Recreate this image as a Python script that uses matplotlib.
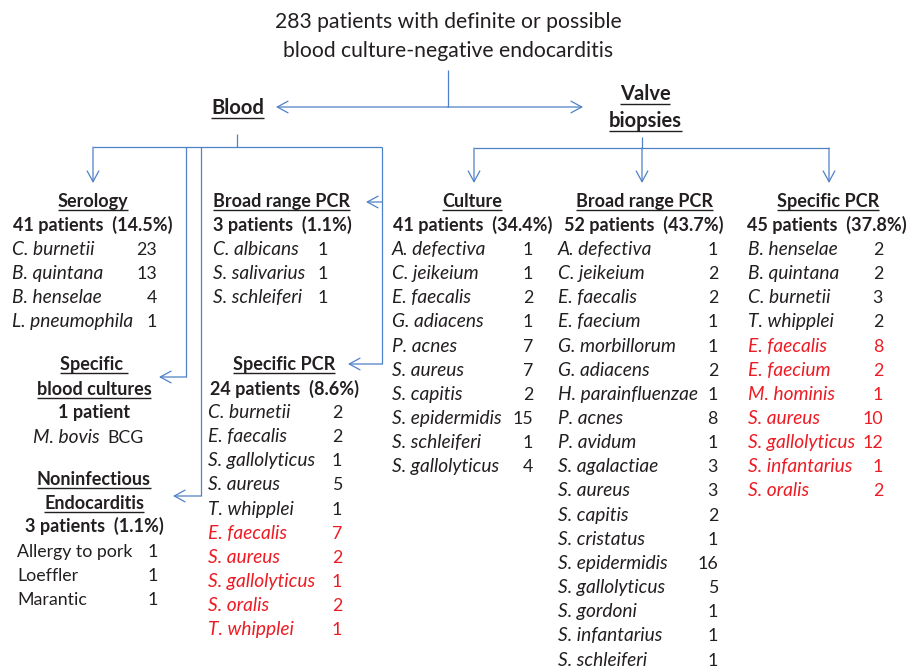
import matplotlib
matplotlib.use('Agg')
import matplotlib.pyplot as plt

plt.rcParams['font.family'] = ['Lato', 'DejaVu Sans']

# data
title_lines = ['283 patients with definite or possible', 'blood culture-negative endocarditis']

serology_names = ['C. burnetii', 'B. quintana', 'B. henselae', 'L. pneumophila']
serology_counts = [23, 13, 4, 1]
serology_total = '41 patients  (14.5%)'

sbc_total = '1 patient'
sbc_species = 'M. bovis'
sbc_strain = 'BCG'

noninf_names = ['Allergy to pork', 'Loeffler', 'Marantic']
noninf_counts = [1, 1, 1]
noninf_total = '3 patients  (1.1%)'

blood_brpcr_names = ['C. albicans', 'S. salivarius', 'S. schleiferi']
blood_brpcr_counts = [1, 1, 1]
blood_brpcr_total = '3 patients  (1.1%)'

blood_spcr_names = ['C. burnetii', 'E. faecalis', 'S. gallolyticus', 'S. aureus', 'T. whipplei']
blood_spcr_counts = [2, 2, 1, 5, 1]
blood_spcr_red_names = ['E. faecalis', 'S. aureus', 'S. gallolyticus', 'S. oralis', 'T. whipplei']
blood_spcr_red_counts = [7, 2, 1, 2, 1]
blood_spcr_total = '24 patients  (8.6%)'

culture_names = ['A. defectiva', 'C. jeikeium', 'E. faecalis', 'G. adiacens', 'P. acnes',
                 'S. aureus', 'S. capitis', 'S. epidermidis', 'S. schleiferi', 'S. gallolyticus']
culture_counts = [1, 1, 2, 1, 7, 7, 2, 15, 1, 4]
culture_total = '41 patients  (34.4%)'

valve_brpcr_names = ['A. defectiva', 'C. jeikeium', 'E. faecalis', 'E. faecium', 'G. morbillorum',
                     'G. adiacens', 'H. parainfluenzae', 'P. acnes', 'P. avidum', 'S. agalactiae',
                     'S. aureus', 'S. capitis', 'S. cristatus', 'S. epidermidis', 'S. gallolyticus',
                     'S. gordoni', 'S. infantarius', 'S. schleiferi']
valve_brpcr_counts = [1, 2, 2, 1, 1, 2, 1, 8, 1, 3, 3, 2, 1, 16, 5, 1, 1, 1]
valve_brpcr_total = '52 patients  (43.7%)'

valve_spcr_names = ['B. henselae', 'B. quintana', 'C. burnetii', 'T. whipplei']
valve_spcr_counts = [2, 2, 3, 2]
valve_spcr_red_names = ['E. faecalis', 'E. faecium', 'M. hominis', 'S. aureus',
                        'S. gallolyticus', 'S. infantarius', 'S. oralis']
valve_spcr_red_counts = [8, 2, 1, 10, 12, 1, 2]
valve_spcr_total = '45 patients  (37.8%)'

# style
TXT = '#231f20'
RED = '#ed1c24'
LINE = '#4f81c7'
FS = 12.8      # regular text and counts
IFS = 13.8     # italic species names
BFS = 13       # bold totals
HFS = 13       # underlined headings
ROW = 24.15

fig = plt.figure(figsize=(9.08, 6.66), dpi=100)
ax = fig.add_axes([0, 0, 1, 1])
ax.set_xlim(0, 908)
ax.set_ylim(666, 0)
ax.axis('off')

headings = []


def txt(x, y, s, ha='left', size=FS, bold=False, italic=False, color=TXT):
    return ax.text(x, y, s, ha=ha, va='baseline', fontsize=size, color=color,
                   fontweight='bold' if bold else 'normal',
                   style='italic' if italic else 'normal')


def heading(x, y, s, ha='center', size=HFS):
    t = txt(x, y, s, ha=ha, size=size, bold=True)
    headings.append((t, y))
    return t


def total(x, y, s, ha='left'):
    return txt(x, y, s, ha=ha, size=BFS, bold=True)


def put_list(x_name, x_num, y0, names, counts, color=TXT, italic=True):
    for i, (n, c) in enumerate(zip(names, counts)):
        y = y0 + i * ROW
        txt(x_name, y, n, size=IFS if italic else FS, italic=italic, color=color)
        txt(x_num, y, str(c), ha='right', color=color)


def seg(xs, ys):
    ax.plot(xs, ys, color=LINE, lw=0.9, solid_capstyle='butt')


def arrow(x0, y0, x1, y1):
    ax.annotate('', xy=(x1, y1), xytext=(x0, y0),
                arrowprops=dict(arrowstyle='->,head_length=0.55,head_width=0.3',
                                color=LINE, lw=0.9, shrinkA=0, shrinkB=0,
                                mutation_scale=14))


# title
txt(448, 28.5, title_lines[0], ha='center', size=15.2)
txt(448, 57, title_lines[1], ha='center', size=15.2)

heading(237.5, 114, 'Blood', size=14.5)
heading(645, 100, 'Valve', size=14.5)
heading(645, 127, 'biopsies', size=14.5)

# connectors: top
seg([448, 448], [70, 107])
arrow(448, 107, 276, 107)
arrow(448, 107, 583, 107)

# connectors: blood
seg([237, 237], [134, 147])
seg([93, 382], [147, 147])
arrow(93, 147, 93, 183)
seg([186, 186], [147, 377])
arrow(186, 377, 159, 377)
seg([201, 201], [147, 496])
arrow(201, 496, 173, 496)
seg([382, 382], [147, 364])
arrow(382, 202, 366, 202)
arrow(382, 364, 348, 364)

# connectors: valve
seg([642, 642], [137, 148])
seg([474, 829], [148, 148])
for xa in [474, 642, 829]:
    arrow(xa, 148, xa, 183)

# serology
heading(93, 207, 'Serology')
total(13, 231, serology_total)
put_list(12, 157, 255, serology_names, serology_counts)

# specific blood cultures
heading(94, 370, 'Specific ')
heading(94, 395, 'blood cultures')
total(94, 418, sbc_total, ha='center')
txt(33, 443, sbc_species, size=IFS, italic=True)
txt(107, 443, sbc_strain)

# noninfectious
heading(94, 485, 'Noninfectious')
heading(94, 509, 'Endocarditis')
total(94, 532, noninf_total, ha='center')
put_list(17, 158, 557, noninf_names, noninf_counts, italic=False)

# blood broad range PCR
heading(213, 207, 'Broad range PCR', ha='left')
total(213, 231, blood_brpcr_total)
put_list(213, 328, 255, blood_brpcr_names, blood_brpcr_counts)

# blood specific PCR
heading(284, 370, 'Specific PCR')
total(284, 395, blood_spcr_total, ha='center')
put_list(208, 342, 418, blood_spcr_names, blood_spcr_counts)
put_list(208, 342, 418 + len(blood_spcr_names) * ROW, blood_spcr_red_names,
         blood_spcr_red_counts, color=RED)

# valve culture
heading(472, 207, 'Culture')
total(393, 231, culture_total)
put_list(392, 533, 255, culture_names, culture_counts)

# valve broad range PCR
heading(644, 207, 'Broad range PCR')
total(644, 231, valve_brpcr_total, ha='center')
put_list(558, 718, 255, valve_brpcr_names, valve_brpcr_counts)

# valve specific PCR
heading(828, 207, 'Specific PCR')
total(827, 231, valve_spcr_total, ha='center')
put_list(748, 883, 255, valve_spcr_names, valve_spcr_counts)
put_list(748, 883, 255 + len(valve_spcr_names) * ROW, valve_spcr_red_names,
         valve_spcr_red_counts, color=RED)

# underline the headings
fig.canvas.draw()
renderer = fig.canvas.get_renderer()
inv = ax.transData.inverted()
for t, y in headings:
    bb = t.get_window_extent(renderer)
    (x0, _), (x1, _) = inv.transform([(bb.x0, bb.y0), (bb.x1, bb.y1)])
    dy = 3.5 if t.get_fontsize() > 14 else 3.0
    ax.plot([x0, x1], [y + dy, y + dy], color=TXT, lw=1.0, solid_capstyle='butt')

fig.savefig('out.png', dpi=100)
